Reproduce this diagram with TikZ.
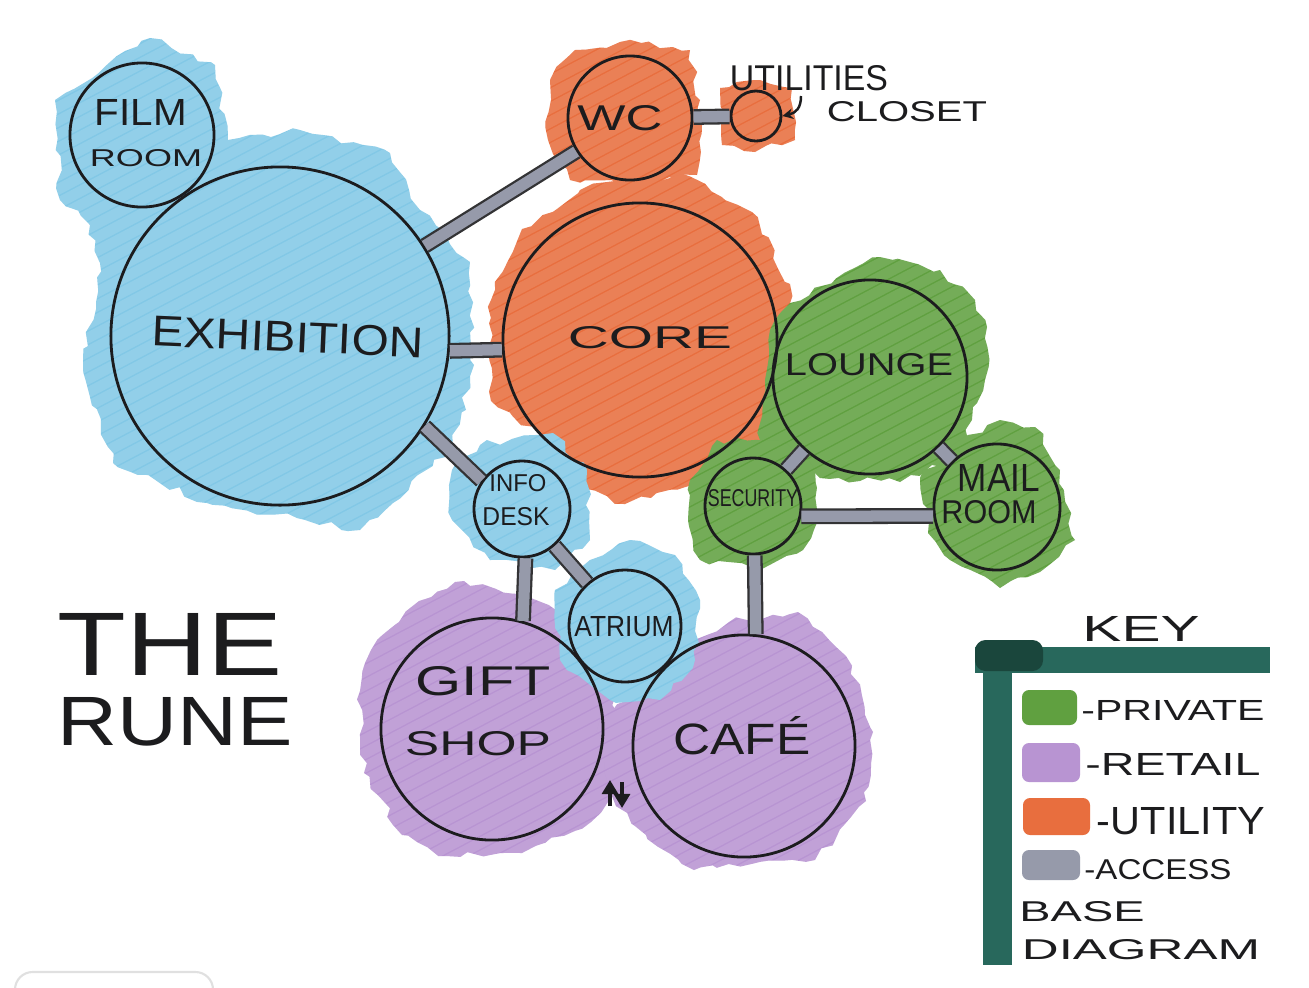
\documentclass[tikz,border=0pt]{standalone}
\usepackage{fontspec}
\setmainfont{Liberation Sans}
\usepackage{graphicx}
\usetikzlibrary{decorations.pathmorphing,arrows.meta}

\definecolor{ink}{RGB}{28,28,30}
\definecolor{mblue}{RGB}{130,200,230}
\definecolor{morange}{RGB}{232,110,62}
\definecolor{mgreen}{RGB}{96,160,64}
\definecolor{mpurple}{RGB}{184,148,210}
\definecolor{mgrey}{RGB}{150,154,170}
\definecolor{mteal}{RGB}{40,104,92}
\definecolor{mtealdark}{RGB}{26,70,60}

\newcommand\lab[3]{\resizebox{#1cm}{#2cm}{#3}}

\tikzset{
  blob/.style={fill=#1, decorate,
    decoration={random steps, segment length=3pt, amplitude=1.1pt},
    path picture={\foreach \k in {-80,...,55}{\draw[white, opacity=0.13, line width=3pt] (\k*26,1000) -- ++(1900,-1000);}}},
  room/.style={circle, draw=ink, line width=0.8pt, inner sep=0pt},
  lbl/.style={inner sep=0pt, text=ink},
  access/.style={draw=ink!90, line width=0.65pt, double=mgrey, double distance=3.2pt},
  swatch/.style={fill=#1, rounded corners=2pt},
  updown/.style={ink, line width=1.3pt, -{Triangle[length=4pt,width=4.5pt]}},
}

\begin{document}
\begin{tikzpicture}[x=0.01cm, y=-0.01cm]
\pgfmathsetseed{11}
\fill[white] (0,0) rectangle (1309,987);
\useasboundingbox (0,0) rectangle (1309,987);

% ---------- marker blobs ----------
\path[blob=mblue] (55,100) -- (150,38) -- (215,65) -- (228,140) -- (300,130) -- (390,153) -- (420,210) -- (470,262) -- (474,365) -- (453,447) -- (393,503) -- (360,530) -- (207,503) -- (113,463) -- (83,363) -- (100,263) -- (90,225) -- (60,200) -- cycle;
\path[blob=morange] (550,80) -- (575,50) -- (620,42) -- (690,50) -- (700,100) -- (697,175) -- (640,185) -- (570,180) -- (548,140) -- cycle;
\path[blob=morange] (720,88) -- (760,80) -- (792,88) -- (795,140) -- (755,152) -- (722,145) -- cycle;
\path[blob=morange] (491,300) -- (522,229) -- (580,190) -- (615,181) -- (683,174) -- (752,212) -- (790,284) -- (787,353) -- (763,442) -- (711,484) -- (625,504) -- (573,484) -- (549,442) -- (491,401) -- cycle;
\path[blob=mblue] (452,470) -- (480,445) -- (553,433) -- (587,470) -- (590,540) -- (555,570) -- (490,560) -- (452,520) -- cycle;
\path[blob=mgreen] (770,330) -- (790,303) -- (880,257) -- (940,270) -- (975,300) -- (987,327) -- (985,380) -- (973,407) -- (960,457) -- (900,482) -- (820,478) -- (760,440) -- (765,380) -- cycle;
\path[blob=mgreen] (690,480) -- (717,440) -- (783,440) -- (815,470) -- (818,520) -- (803,550) -- (760,570) -- (700,560) -- (688,520) -- cycle;
\path[blob=mgreen] (920,478) -- (960,440) -- (1000,420) -- (1035,427) -- (1060,470) -- (1075,540) -- (1040,572) -- (1000,588) -- (950,560) -- (928,533) -- cycle;
\path[blob=mpurple] (360,691) -- (371,650) -- (419,601) -- (464,581) -- (522,594) -- (563,615) -- (619,715) -- (622,773) -- (591,822) -- (522,853) -- (446,856) -- (402,835) -- (364,773) -- cycle;
\path[blob=mpurple] (600,720) -- (636,691) -- (677,646) -- (729,622) -- (798,612) -- (846,656) -- (873,732) -- (866,801) -- (815,860) -- (694,870) -- (646,835) -- (605,790) -- cycle;
\path[blob=mblue] (555,590) -- (590,560) -- (630,540) -- (675,555) -- (700,600) -- (695,660) -- (660,700) -- (610,700) -- (560,660) -- cycle;

% ---------- rooms ----------
\node[room, minimum size=1.44cm] (film) at (142,135) {};
\node[room, minimum size=3.38cm] (exh) at (280,336) {};
\node[room, minimum size=1.24cm] (wc) at (630,118) {};
\node[room, minimum size=0.50cm] (util) at (756,116) {};
\node[room, minimum size=2.74cm] (core) at (640,340) {};
\node[room, minimum size=1.94cm] (lounge) at (870,377) {};
\node[room, minimum size=0.96cm] (sec) at (753,506) {};
\node[room, minimum size=1.26cm] (mail) at (997,507) {};
\node[room, minimum size=0.96cm] (info) at (522,509) {};
\node[room, minimum size=1.12cm] (atrium) at (625,626) {};
\node[room, minimum size=2.22cm] (gift) at (492,729) {};
\node[room, minimum size=2.22cm] (cafe) at (744,746) {};

% ---------- access connectors ----------
\draw[access] (exh) -- (wc);
\draw[access] (exh.-5) -- (core.184);
\draw[access] (wc) -- (util);
\draw[access] (exh.-32) -- (info.145);
\draw[access] (info) -- (atrium);
\draw[access] (info.-86) -- (gift.74);
\draw[access] (lounge) -- (sec);
\draw[access] (lounge) -- (mail);
\draw[access] (sec.-12) -- (mail.188);
\draw[access] (sec.-88) -- (cafe.84);

% ---------- labels ----------
\node[lbl] (lfilm) at (141,112) {\lab{0.92}{0.26}{FILM}};
\node[lbl] (lfilm2) at (146,158) {\lab{1.12}{0.17}{ROOM}};
\node[lbl, rotate=-2.5] (lexh) at (288,337) {\lab{2.71}{0.30}{EXHIBITION}};
\node[lbl] (lwc) at (620,118) {\lab{0.85}{0.25}{WC}};
\node[lbl] (lutil) at (809,78) {\lab{1.58}{0.25}{UTILITIES}};
\node[lbl] (lclos) at (907,112) {\lab{1.60}{0.20}{CLOSET}};
\node[lbl] (lcore) at (650,338) {\lab{1.64}{0.22}{CORE}};
\node[lbl] (llounge) at (869,365) {\lab{1.68}{0.22}{LOUNGE}};
\node[lbl] (lsec) at (753,498) {\lab{0.90}{0.17}{SECURITY}};
\node[lbl] (lmail) at (999,478) {\lab{0.82}{0.27}{MAIL}};
\node[lbl] (lmail2) at (989,512) {\lab{0.95}{0.23}{ROOM}};
\node[lbl] (linfo) at (518,483) {\lab{0.57}{0.17}{INFO}};
\node[lbl] (linfo2) at (516,517) {\lab{0.67}{0.18}{DESK}};
\node[lbl] (latr) at (624,627) {\lab{0.99}{0.20}{ATRIUM}};
\node[lbl] (lgift) at (483,681) {\lab{1.35}{0.29}{GIFT}};
\node[lbl] (lshop) at (478,744) {\lab{1.46}{0.24}{SHOP}};
\node[lbl] (lcafe) at (742,736) {\lab{1.37}{0.38}{CAFÉ}};

% utilities hook arrow
\coordinate (hk) at (801,96);
\draw[ink, line width=0.7pt, -{Stealth[length=3pt,width=3pt]}] (hk) .. controls (801,108) and (796,113) .. (util.east);

% stair / lift arrows
\coordinate (upA) at (610,806);
\coordinate (upB) at (610,780);
\coordinate (dnA) at (622,782);
\coordinate (dnB) at (622,808);
\draw[updown] (upA) -- (upB);
\draw[updown] (dnA) -- (dnB);

% title
\node[lbl] (the) at (170,644) {\lab{2.25}{0.62}{THE}};
\node[lbl] (rune) at (175,722) {\lab{2.35}{0.48}{RUNE}};

% ---------- key ----------
\fill[mteal] (983,642) rectangle (1012,965);
\fill[mteal] (975,647) rectangle (1270,673);
\fill[mtealdark, rounded corners=3pt] (975,640) rectangle (1043,671);
\node[lbl] (lkey) at (1141,629) {\lab{1.17}{0.25}{KEY}};
\path[swatch=mgreen] (1022,690) rectangle (1077,725);
\path[swatch=mpurple] (1022,743) rectangle (1080,782);
\path[swatch=morange] (1023,798) rectangle (1090,835);
\path[swatch=mgrey] (1022,850) rectangle (1080,880);
\node[lbl] (kpriv) at (1173,710) {\lab{1.83}{0.20}{-PRIVATE}};
\node[lbl] (kret) at (1173,764) {\lab{1.75}{0.22}{-RETAIL}};
\node[lbl] (kutil) at (1181,821) {\lab{1.68}{0.27}{-UTILITY}};
\node[lbl] (kacc) at (1158,870) {\lab{1.47}{0.20}{-ACCESS}};
\node[lbl] (kbase) at (1082,912) {\lab{1.25}{0.20}{BASE}};
\node[lbl] (kdiag) at (1141,950) {\lab{2.38}{0.20}{DIAGRAM}};

% screenshot frame remnant
\draw[black!12, line width=0.6pt, rounded corners=5pt] (15,995) -- (15,972) -- (213,972) -- (213,995);
\end{tikzpicture}
\end{document}
